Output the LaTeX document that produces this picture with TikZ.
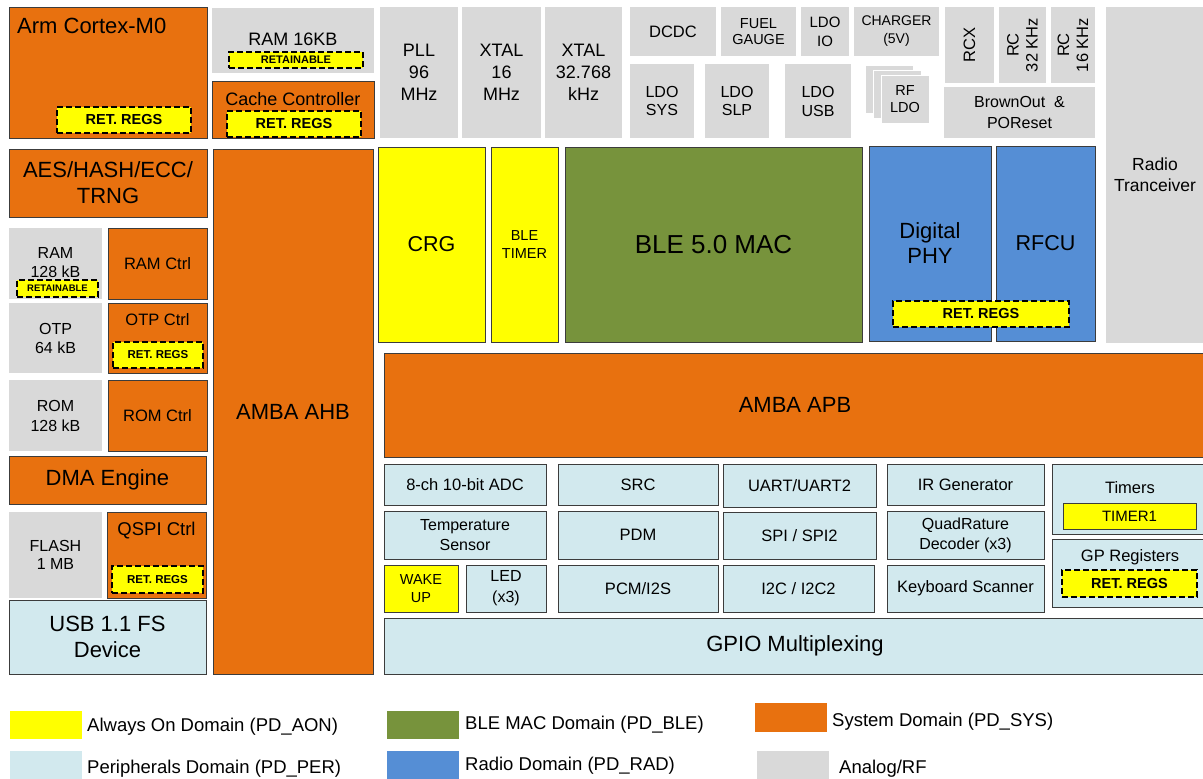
\documentclass[tikz,border=0pt]{standalone}
\usepackage{fontspec}
\setmainfont{Liberation Sans}
\usepackage{tikz}
\usetikzlibrary{positioning}
\definecolor{pdsys}{HTML}{E8710F}
\definecolor{pdaon}{HTML}{FFFF00}
\definecolor{pdble}{HTML}{77933C}
\definecolor{pdrad}{HTML}{558ED5}
\definecolor{pdper}{HTML}{D2E9EE}
\definecolor{analog}{HTML}{D9D9D9}
\definecolor{rim}{HTML}{3C3C3C}

\begin{document}
\begin{tikzpicture}[x=1pt, y=-1pt,
  cell/.style args={#1,#2,#3,#4}{at={({(#1+#3)/2},{(#2+#4)/2})},
    minimum width={#3-#1}, minimum height={#4-#2}},
  blk/.style={rectangle, inner sep=0pt, align=center},
  sys/.style={blk, fill=pdsys, draw=rim, line width=1pt},
  ana/.style={blk, fill=analog},
  per/.style={blk, fill=pdper, draw=rim, line width=1pt},
  aon/.style={blk, fill=pdaon, draw=rim, line width=1pt},
  mac/.style={blk, fill=pdble, draw=rim, line width=1pt},
  rad/.style={blk, fill=pdrad, draw=rim, line width=1pt},
  ret/.style={blk, fill=pdaon, draw=black, line width=1.6pt, dash pattern=on 6pt off 3pt,
    font=\bfseries\fontsize{14.5}{16}\selectfont},
  lbl/.style={inner sep=0pt, align=center},
  t22/.style={font=\fontsize{22}{26}\selectfont},
  t18/.style={font=\fontsize{18}{22}\selectfont},
  t16/.style={font=\fontsize{16.5}{19}\selectfont},
  legtext/.style={font=\fontsize{18.5}{21}\selectfont, anchor=base west, inner sep=0pt}]
  \useasboundingbox (0,0) rectangle (1203,779);

  % CPU, cache and small RAM
  \node[sys, cell={9,7,207,138}] (cpu) {};
  \node[lbl, t22, anchor=base west] (cpulbl) at (17,34) {Arm Cortex-M0};
  \node[ret, cell={57,107,191,133}] (cpuret) {RET. REGS};
  \node[ana, cell={212,8,374,73}] (ram16) {};
  \node[lbl, t18, anchor=base] (ram16lbl) at (293,45.5) {RAM 16KB};
  \node[ret, cell={229,52,363,68}, font=\bfseries\fontsize{11}{12}\selectfont] (ram16ret) {RETAINABLE};
  \node[sys, cell={212,81,374,138}] (cache) {};
  \node[lbl, t18, anchor=base] (cachelbl) at (293,105.5) {Cache Controller};
  \node[ret, cell={227,111,361,137}] (cacheret) {RET. REGS};

  % clocks
  \node[ana, t18, cell={380,7,458,138}] (pll) {PLL\\96\\MHz};
  \node[ana, t18, cell={462,7,541,138}] (xtal16) {XTAL\\16\\MHz};
  \node[ana, t18, cell={545,7,622,138}] (xtal32) {XTAL\\32.768\\kHz};

  % power
  \node[ana, font=\fontsize{16.5}{19}\selectfont, cell={630,7,716,56}] (dcdc) {DCDC};
  \node[ana, font=\fontsize{14.5}{16.5}\selectfont, cell={721,7,796,56}] (fuel) {FUEL\\GAUGE};
  \node[ana, font=\fontsize{15}{19}\selectfont, cell={801,7,849,56}] (ldoio) {LDO\\IO};
  \node[ana, font=\fontsize{14}{18}\selectfont, cell={854,7,939,56}] (charger) {CHARGER\\(5V)};
  \node[ana, font=\fontsize{16}{18}\selectfont, cell={630,64,694,138}] (ldosys) {LDO\\SYS};
  \node[ana, font=\fontsize{16}{18}\selectfont, cell={705,64,769,138}] (ldoslp) {LDO\\SLP};
  \node[ana, font=\fontsize{16}{19}\selectfont, cell={785,64,851,138}] (ldousb) {LDO\\USB};
  \node[ana, draw=white, line width=0.6pt, cell={865,65,913,113}] (rfldoa) {};
  \node[ana, draw=white, line width=0.6pt, cell={873,70,921,118}] (rfldob) {};
  \node[ana, draw=white, line width=0.6pt, font=\fontsize{14.5}{17}\selectfont, cell={881,75,929,123}] (rfldo) {RF\\LDO};

  % oscillators, reset, radio
  \node[ana, cell={945,7,994,83}] (rcx) {};
  \node[lbl, t16, rotate=90] (rcxlbl) at (rcx) {RCX};
  \node[ana, cell={999,7,1046,83}] (rc32) {};
  \node[lbl, t16, rotate=90] (rc32lbl) at (rc32) {RC\\32 KHz};
  \node[ana, cell={1051,7,1095,83}] (rc16) {};
  \node[lbl, t16, rotate=90] (rc16lbl) at (rc16) {RC\\16 KHz};
  \node[ana, font=\fontsize{16}{21}\selectfont, cell={944,87,1095,138}] (bor) {BrownOut\ \ \&\\POReset};
  \node[ana, cell={1106,7,1206,343}] (radio) {};
  \node[lbl, font=\fontsize{17.5}{21}\selectfont] (radiolbl) at (1155,175) {Radio\\Tranceiver};

  % left column
  \node[sys, t22, cell={9,149,207,217}] (crypto) {AES/HASH/ECC/\\TRNG};
  \node[ana, cell={9,228,102,299}] (ram128) {};
  \node[lbl, font=\fontsize{16}{19}\selectfont] (ram128lbl) at (55.5,263) {RAM\\128 kB};
  \node[ret, cell={17,280,98,297}, font=\bfseries\fontsize{9.5}{10}\selectfont] (ram128ret) {RETAINABLE};
  \node[sys, t16, cell={108,228,207,299}] (ramctrl) {RAM Ctrl};
  \node[ana, font=\fontsize{16}{19}\selectfont, cell={9,303,102,373}] (otp) {OTP\\64 kB};
  \node[sys, cell={108,303,207,373}] (otpctrl) {};
  \node[lbl, t16, anchor=base] (otpctrllbl) at (157.5,325.7) {OTP Ctrl};
  \node[ret, cell={113,342,203,368}, font=\bfseries\fontsize{11.5}{12}\selectfont] (otpret) {RET. REGS};
  \node[ana, font=\fontsize{16}{20}\selectfont, cell={9,380,102,451}] (rom) {ROM\\128 kB};
  \node[sys, t16, cell={108,380,207,451}] (romctrl) {ROM Ctrl};
  \node[sys, t22, cell={9,456,206,504}] (dma) {DMA Engine};
  \node[ana, font=\fontsize{16}{18}\selectfont, cell={9,512,102,598}] (flash) {FLASH\\1 MB};
  \node[sys, cell={107,512,206,598}] (qspi) {};
  \node[lbl, font=\fontsize{18.5}{22}\selectfont, anchor=base] (qspilbl) at (156.5,535.5) {QSPI Ctrl};
  \node[ret, cell={112,566,203,593}, font=\bfseries\fontsize{11.5}{12}\selectfont] (qspiret) {RET. REGS};
  \node[per, t22, cell={9,600,206,674}] (usb) {USB 1.1 FS\\Device};
  \node[sys, t22, cell={213,149,373,674}] (ahb) {AMBA AHB};

  % always-on, BLE and radio domains
  \node[aon, font=\fontsize{21.5}{24}\selectfont, cell={378,147,485,342}] (crg) {CRG};
  \node[aon, font=\fontsize{14.5}{18}\selectfont, cell={491,147,558,342}] (bletimer) {BLE\\TIMER};
  \node[mac, font=\fontsize{26}{30}\selectfont, cell={565,147,862,342}] (blemac) {BLE 5.0 MAC};
  \node[rad, font=\fontsize{22}{25}\selectfont, cell={869,146,991,341}] (phy) {Digital\\PHY};
  \node[rad, font=\fontsize{21.5}{24}\selectfont, cell={996,146,1095,341}] (rfcu) {RFCU};
  \node[ret, cell={893,301,1069,327}] (phyret) {RET. REGS};
  \node[sys, t22, cell={384,353,1206,457}] (apb) {AMBA APB};

  % peripherals
  \node[per, t16, cell={384,464,546,505}] (adc) {8-ch 10-bit ADC};
  \node[per, font=\fontsize{16}{20}\selectfont, cell={384,511,546,559}] (tsens) {Temperature\\Sensor};
  \node[aon, font=\fontsize{14.5}{18}\selectfont, cell={384,565,458,612}] (wakeup) {WAKE\\UP};
  \node[per, font=\fontsize{16}{21}\selectfont, cell={466,565,546,612}] (led) {LED\\(x3)};
  \node[per, t16, cell={558,464,718,505}] (src) {SRC};
  \node[per, t16, cell={558,511,718,559}] (pdm) {PDM};
  \node[per, t16, cell={558,565,718,612}] (pcm) {PCM/I2S};
  \node[per, t16, cell={723,464,876,507}] (uart) {UART/UART2};
  \node[per, t16, cell={723,512,876,559}] (spi) {SPI / SPI2};
  \node[per, t16, cell={723,565,874,612}] (i2c) {I2C / I2C2};
  \node[per, t16, cell={887,464,1044,505}] (irgen) {IR Generator};
  \node[per, font=\fontsize{16}{20}\selectfont, cell={887,511,1044,559}] (qdec) {QuadRature\\Decoder (x3)};
  \node[per, t16, cell={887,565,1044,612}] (kbd) {Keyboard Scanner};
  \node[per, cell={1052,464,1206,534}] (timers) {};
  \node[lbl, t16, anchor=base] (timerslbl) at (1130,493.7) {Timers};
  \node[aon, font=\fontsize{15}{17}\selectfont, cell={1063,503,1196,529}] (timer1) {TIMER1};
  \node[per, cell={1052,539,1206,607}] (gpregs) {};
  \node[lbl, t16, anchor=base] (gpregslbl) at (1130,561) {GP Registers};
  \node[ret, cell={1062,570,1197,597}] (gpret) {RET. REGS};
  \node[per, t22, cell={384,618,1206,674}] (gpio) {GPIO Multiplexing};

  % legend
  \node[blk, fill=pdaon, cell={10,711,82,739}] (keyaon) {};
  \node[legtext] (keyaonlbl) at (87,731) {Always On Domain (PD\_AON)};
  \node[blk, fill=pdble, cell={387,711,459,739}] (keyble) {};
  \node[legtext] (keyblelbl) at (465,729) {BLE MAC Domain (PD\_BLE)};
  \node[blk, fill=pdsys, cell={755,703,827,732}] (keysys) {};
  \node[legtext] (keysyslbl) at (832,726) {System Domain (PD\_SYS)};
  \node[blk, fill=pdper, cell={10,751,82,779}] (keyper) {};
  \node[legtext] (keyperlbl) at (87,773) {Peripherals Domain (PD\_PER)};
  \node[blk, fill=pdrad, cell={387,751,459,779}] (keyrad) {};
  \node[legtext] (keyradlbl) at (465,770) {Radio Domain (PD\_RAD)};
  \node[blk, fill=analog, cell={757,751,829,779}] (keyana) {};
  \node[legtext] (keyanalbl) at (839,773) {Analog/RF};
\end{tikzpicture}
\end{document}
